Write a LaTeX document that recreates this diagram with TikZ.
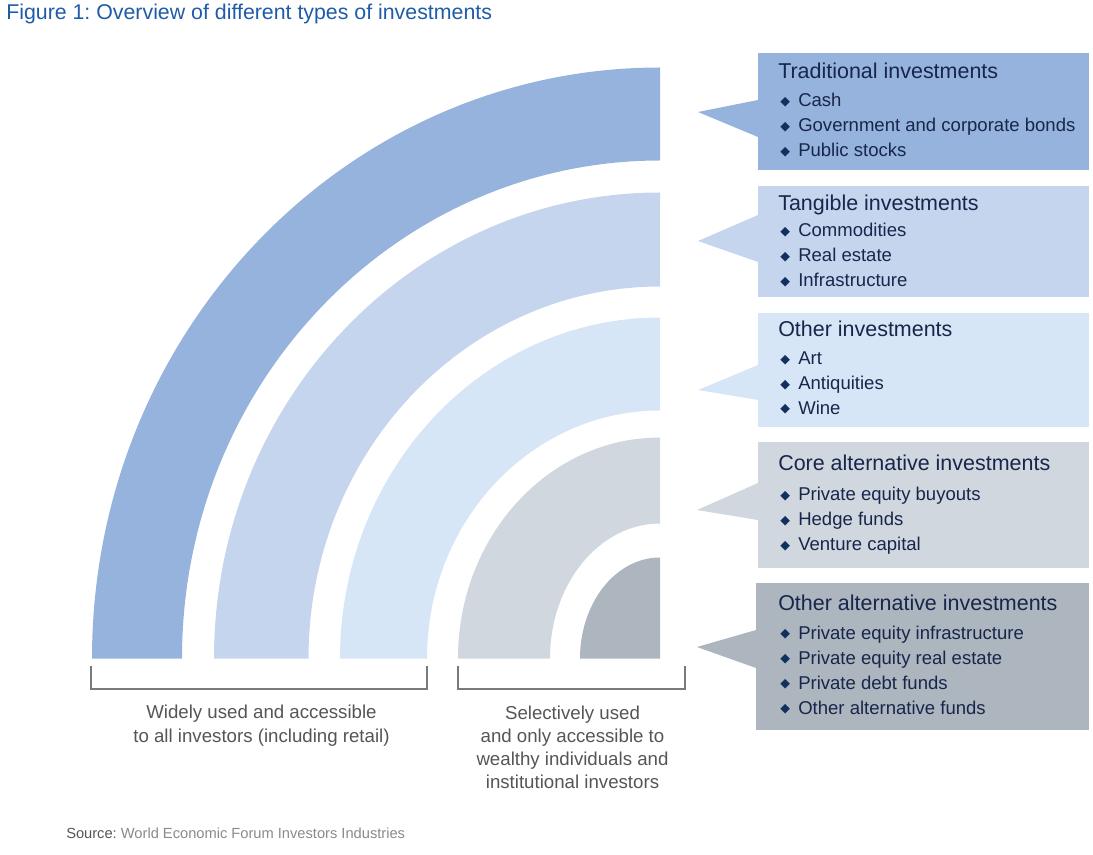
\documentclass[tikz,border=0pt]{standalone}
\usepackage{fontspec}
\setmainfont{Liberation Sans}
\newfontfamily\symfont{DejaVu Sans}
\usetikzlibrary{calc}
\frenchspacing

\definecolor{bandA}{HTML}{95B3DC}
\definecolor{bandB}{HTML}{C6D5EE}
\definecolor{bandC}{HTML}{D6E6F6}
\definecolor{bandD}{HTML}{D0D7DF}
\definecolor{bandE}{HTML}{ADB5BF}
\definecolor{titleblue}{HTML}{1F5CA8}
\definecolor{navy}{HTML}{17264A}
\definecolor{bulletnavy}{HTML}{12305F}
\definecolor{greytext}{HTML}{555555}
\definecolor{lightgrey}{HTML}{8A8A8A}
\definecolor{bracketgrey}{HTML}{7A7A7A}

% one drawing unit = one pixel of the 1093 x 855 canvas
\newcommand\pxu{0.75pt}
\newcommand\dia{\makebox[13.5pt][l]{\raisebox{1.0pt}{\color{bulletnavy}\symfont\fontsize{9.5}{9.5}\selectfont\char"25C6}}}

% quarter-ring band: colour, outer x/y radius, inner x/y radius
\newcommand\band[5]{%
  \fill[#1] (660-#2,-658.5) arc[start angle=180,end angle=90,x radius=#2,y radius=#3]
    -- (660,-658.5+#5) arc[start angle=90,end angle=180,x radius=#4,y radius=#5] -- cycle;}

\tikzset{
  infobox/.style={anchor=north west, inner sep=0pt, outer sep=0pt, draw=none},
  boxtitle/.style={anchor=base west, inner sep=0pt, text=navy, font=\fontsize{16.1}{18}\selectfont},
  boxitem/.style={anchor=base west, inner sep=0pt, text=navy, font=\fontsize{13.9}{16}\selectfont},
  note/.style={anchor=base, inner sep=0pt, text=greytext, font=\fontsize{14}{16}\selectfont},
  bracket/.style={draw=bracketgrey, line width=0.8pt},
}

\begin{document}
\begin{tikzpicture}[x=0.75pt,y=0.75pt]
\useasboundingbox (0,0) rectangle (1093,-855);

% heading
\node[anchor=base west, inner sep=0pt, text=titleblue, font=\fontsize{16}{18}\selectfont] (heading) at (6,-20) {Figure 1: Overview of different types of investments};

% concentric bands
\band{bandA}{568}{591}{478}{498}
\band{bandB}{446}{466}{351.5}{372}
\band{bandC}{320}{341}{233}{248}
\band{bandD}{202}{221}{110}{135}
\fill[bandE] (580,-658.5) arc[start angle=180,end angle=90,x radius=80,y radius=101] -- (660,-658.5) -- cycle;

% callout boxes with their pointers
\node[infobox, fill=bandA, minimum width=331*\pxu, minimum height=117*\pxu] (boxA) at (758,-53) {};
\fill[bandA] (758,-100) -- (698,-112) -- (758,-137) -- cycle;
\node[infobox, fill=bandB, minimum width=331*\pxu, minimum height=111*\pxu] (boxB) at (758,-186) {};
\fill[bandB] (758,-215) -- (698,-241) -- (758,-262) -- cycle;
\node[infobox, fill=bandC, minimum width=331*\pxu, minimum height=114*\pxu] (boxC) at (758,-313) {};
\fill[bandC] (758,-365) -- (698,-390) -- (758,-400) -- cycle;
\node[infobox, fill=bandD, minimum width=331*\pxu, minimum height=126*\pxu] (boxD) at (758,-442) {};
\fill[bandD] (758,-483) -- (697,-510) -- (758,-520) -- cycle;
\node[infobox, fill=bandE, minimum width=333*\pxu, minimum height=147*\pxu] (boxE) at (756,-583) {};
\fill[bandE] (756,-630) -- (697,-647) -- (756,-668) -- cycle;

% box texts
\node[boxtitle] (tA) at (778,-78.3) {Traditional investments};
\node[boxitem] (iA1) at (780,-107) {\dia Cash};
\node[boxitem] (iA2) at (780,-131.7) {\dia Government and corporate bonds};
\node[boxitem] (iA3) at (780,-156.4) {\dia Public stocks};

\node[boxtitle] (tB) at (778,-211) {Tangible investments};
\node[boxitem] (iB1) at (780,-237) {\dia Commodities};
\node[boxitem] (iB2) at (780,-262) {\dia Real estate};
\node[boxitem] (iB3) at (780,-287) {\dia Infrastructure};

\node[boxtitle] (tC) at (778,-336.7) {Other investments};
\node[boxitem] (iC1) at (780,-365) {\dia Art};
\node[boxitem] (iC2) at (780,-389.5) {\dia Antiquities};
\node[boxitem] (iC3) at (780,-414.3) {\dia Wine};

\node[boxtitle] (tD) at (778,-470.7) {Core alternative investments};
\node[boxitem] (iD1) at (780,-501) {\dia Private equity buyouts};
\node[boxitem] (iD2) at (780,-525.7) {\dia Hedge funds};
\node[boxitem] (iD3) at (780,-550.7) {\dia Venture capital};

\node[boxtitle] (tE) at (778,-610) {Other alternative investments};
\node[boxitem] (iE1) at (780,-639.3) {\dia Private equity infrastructure};
\node[boxitem] (iE2) at (780,-664) {\dia Private equity real estate};
\node[boxitem] (iE3) at (780,-689) {\dia Private debt funds};
\node[boxitem] (iE4) at (780,-714) {\dia Other alternative funds};

% brackets under the bands
\draw[bracket] (91,-666) -- (91,-689) -- (427,-689) -- (427,-666);
\draw[bracket] (458,-666) -- (458,-689) -- (685,-689) -- (685,-666);

% bracket captions
\node[note] (wideA) at (261.5,-718.5) {Widely used and accessible};
\node[note] (wideB) at (261.5,-742) {to all investors (including retail)};
\node[note] (selA) at (572.5,-719.5) {Selectively used};
\node[note] (selB) at (572.5,-742.5) {and only accessible to};
\node[note] (selC) at (572.5,-765.5) {wealthy individuals and};
\node[note] (selD) at (572.5,-788) {institutional investors};

% source line
\node[anchor=base west, inner sep=0pt, font=\fontsize{11}{13}\selectfont] (source) at (66,-838)
  {\textcolor{greytext}{Source:} \textcolor{lightgrey}{World Economic Forum Investors Industries}};
\end{tikzpicture}
\end{document}
